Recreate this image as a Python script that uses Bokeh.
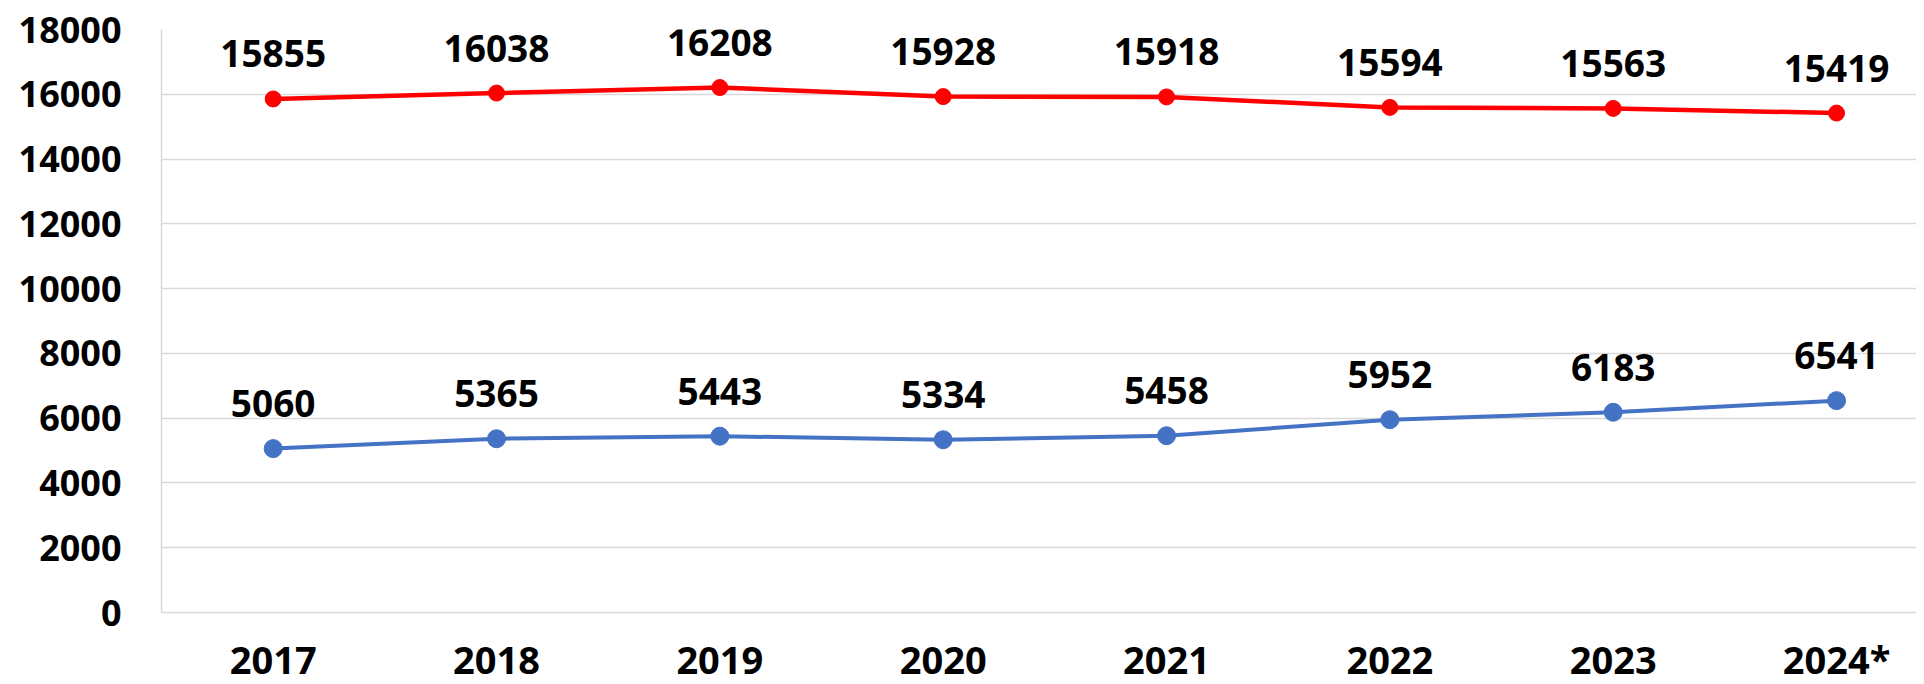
from bokeh.plotting import figure
from bokeh.models import ColumnDataSource, Range1d, FixedTicker
from bokeh.core.properties import value
from bokeh.embed import file_html
from bokeh.resources import INLINE

years = ["2017", "2018", "2019", "2020", "2021", "2022", "2023", "2024*"]
red_values = [15855, 16038, 16208, 15928, 15918, 15594, 15563, 15419]
blue_values = [5060, 5365, 5443, 5334, 5458, 5952, 6183, 6541]
y_ticks = list(range(0, 18001, 2000))

xs = list(range(len(years)))

p = figure(frame_width=1755, frame_height=583, output_backend="svg", toolbar_location=None,
           x_range=Range1d(-0.5, 7.358), y_range=Range1d(0, 18000),
           min_border_left=161, min_border_right=0, min_border_top=29, min_border_bottom=0)
p.outline_line_color = None
p.background_fill_color = "white"
p.border_fill_color = "white"

src_r = ColumnDataSource(dict(x=xs, y=red_values, t=[str(v) for v in red_values]))
src_b = ColumnDataSource(dict(x=xs, y=blue_values, t=[str(v) for v in blue_values]))

p.line("x", "y", source=src_r, line_color="#FF0000", line_width=4.5)
p.scatter("x", "y", source=src_r, size=16, fill_color="#FF0000", line_color="#FF0000")
p.line("x", "y", source=src_b, line_color="#4472C4", line_width=4)
p.scatter("x", "y", source=src_b, size=18, fill_color="#4472C4", line_color="#4472C4")

for src in (src_r, src_b):
    p.text("x", "y", text="t", source=src, y_offset=-45, text_align="center",
           text_baseline="alphabetic", text_font=value("Open Sans"),
           text_font_style="bold", text_font_size="37px", text_color="black")

p.xgrid.visible = False
p.ygrid.grid_line_color = "#D9D9D9"
p.ygrid.grid_line_width = 1.5

p.yaxis.ticker = FixedTicker(ticks=y_ticks)
p.yaxis.axis_line_color = "#D9D9D9"
p.yaxis.axis_line_width = 1.5
p.yaxis.major_tick_line_color = None
p.yaxis.minor_tick_line_color = None
p.yaxis.major_tick_out = 0
p.yaxis.major_tick_in = 0
p.yaxis.major_label_standoff = 40
p.yaxis.major_label_text_font = "Open Sans"
p.yaxis.major_label_text_font_style = "bold"
p.yaxis.major_label_text_font_size = "36px"
p.yaxis.major_label_text_color = "black"

p.xaxis.ticker = FixedTicker(ticks=xs)
p.xaxis.major_label_overrides = {i: y for i, y in enumerate(years)}
p.xaxis.axis_line_color = "#D9D9D9"
p.xaxis.axis_line_width = 1.5
p.xaxis.major_tick_line_color = None
p.xaxis.minor_tick_line_color = None
p.xaxis.major_tick_out = 0
p.xaxis.major_tick_in = 0
p.xaxis.major_label_standoff = 20
p.xaxis.major_label_text_font = "Open Sans"
p.xaxis.major_label_text_font_style = "bold"
p.xaxis.major_label_text_font_size = "38px"
p.xaxis.major_label_text_color = "black"

open("out.html", "w").write(file_html(p, INLINE))
